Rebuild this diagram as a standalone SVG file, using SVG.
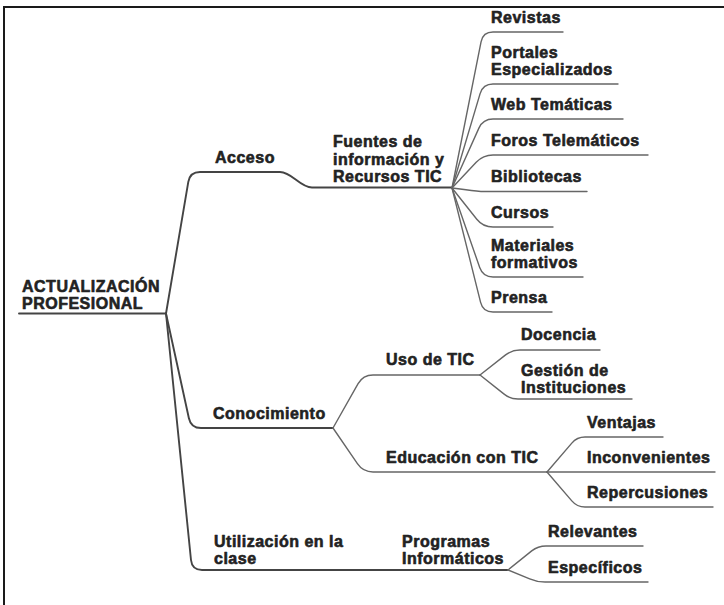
<svg xmlns="http://www.w3.org/2000/svg" width="724" height="605" viewBox="0 0 724 605">
<style>
text{font-family:"Liberation Sans",Arial,sans-serif;font-weight:bold;font-size:16px;letter-spacing:0.5px;fill:#222;stroke:#222;stroke-width:0.6;stroke-linejoin:round}
.c{fill:none;stroke:#666;stroke-width:1.4;stroke-linejoin:round;stroke-linecap:round}
.m{stroke:#444;stroke-width:1.9}
</style>
<rect x="0" y="0" width="724" height="605" fill="#ffffff"/>
<rect x="4" y="7" width="760" height="640" fill="none" stroke="#1a1a1a" stroke-width="2"/>
<g id="connectors">
<path class="c m" d="M19,313.5 L166,313.5"/>
<path class="c m" d="M166,313.5 L188.3,181.9 Q190,172 200,172 L280,172 C292,172 300,187.5 312,187.5 L452,187.5"/>
<path class="c m" d="M166,313.5 L188.9,418.2 Q191,428 201,428 L333,428"/>
<path class="c m" d="M166,313.5 L191,560 Q192,570 202,570 L508,570"/>
<path class="c" d="M452,188 L481.05,41.8 Q483,32 493,32 L563,32"/>
<path class="c" d="M452,188 L480.1,93.6 Q483,84 493,84 L618,84"/>
<path class="c" d="M452,188 L478.9,128.1 Q483,119 493,119 L623,119"/>
<path class="c" d="M452,188 L476.2,162.3 Q483,155 493,155 L648,155"/>
<path class="c" d="M452,188 C465,189 472,191.5 485,191.5 L587,191.5"/>
<path class="c" d="M452,188 L476.8,219.2 Q483,227 493,227 L553,227"/>
<path class="c" d="M452,188 L479.7,267.5 Q483,277 493,277 L583,277"/>
<path class="c" d="M452,188 L480.6,302.3 Q483,312 493,312 L552,312"/>
<path class="c" d="M333,428 L358.1,383.7 Q363,375 373,375 L480,375"/>
<path class="c" d="M333,428 L357.4,463.7 Q363,472 373,472 L547,472"/>
<path class="c" d="M480,375 L505.6,354.9 Q512,350 520,350 L600,350"/>
<path class="c" d="M480,375 L503.8,393.9 Q510,399 518,399 L632,399"/>
<path class="c" d="M547,472 L571.8,443.1 Q577,437 585,437 L663,437"/>
<path class="c" d="M547,472 L715,472"/>
<path class="c" d="M547,472 L571.8,500.9 Q577,507 585,507 L713,507"/>
<path class="c" d="M508,570 L531.7,550.9 Q538,546 546,546 L643,546"/>
<path class="c" d="M508,570 L529.7,578.8 Q537,582 545,582 L648,582"/>
</g>
<g id="root"><text x="22" y="292">ACTUALIZACIÓN</text><text x="22" y="308.5">PROFESIONAL</text></g>
<g id="acceso"><text x="215" y="163">Acceso</text></g>
<g id="fuentes"><text x="333" y="147">Fuentes de</text><text x="333" y="164.5">información y</text><text x="333" y="182">Recursos TIC</text></g>
<g id="revistas"><text x="491" y="23">Revistas</text></g>
<g id="portales"><text x="491" y="58">Portales</text><text x="491" y="75">Especializados</text></g>
<g id="web"><text x="491" y="110">Web Temáticas</text></g>
<g id="foros"><text x="491" y="146">Foros Telemáticos</text></g>
<g id="bibliotecas"><text x="491" y="182">Bibliotecas</text></g>
<g id="cursos"><text x="491" y="218">Cursos</text></g>
<g id="materiales"><text x="491" y="251">Materiales</text><text x="491" y="268">formativos</text></g>
<g id="prensa"><text x="491" y="303">Prensa</text></g>
<g id="conocimiento"><text x="213" y="419">Conocimiento</text></g>
<g id="uso"><text x="386" y="365">Uso de TIC</text></g>
<g id="docencia"><text x="521" y="340">Docencia</text></g>
<g id="gestion"><text x="521" y="376">Gestión de</text><text x="521" y="393">Instituciones</text></g>
<g id="educacion"><text x="386" y="463">Educación con TIC</text></g>
<g id="ventajas"><text x="587" y="428">Ventajas</text></g>
<g id="inconvenientes"><text x="587" y="463">Inconvenientes</text></g>
<g id="repercusiones"><text x="587" y="498">Repercusiones</text></g>
<g id="utilizacion"><text x="214" y="547">Utilización en la</text><text x="214" y="564">clase</text></g>
<g id="programas"><text x="402" y="547">Programas</text><text x="402" y="564">Informáticos</text></g>
<g id="relevantes"><text x="548" y="537">Relevantes</text></g>
<g id="especificos"><text x="548" y="573">Específicos</text></g>
</svg>
